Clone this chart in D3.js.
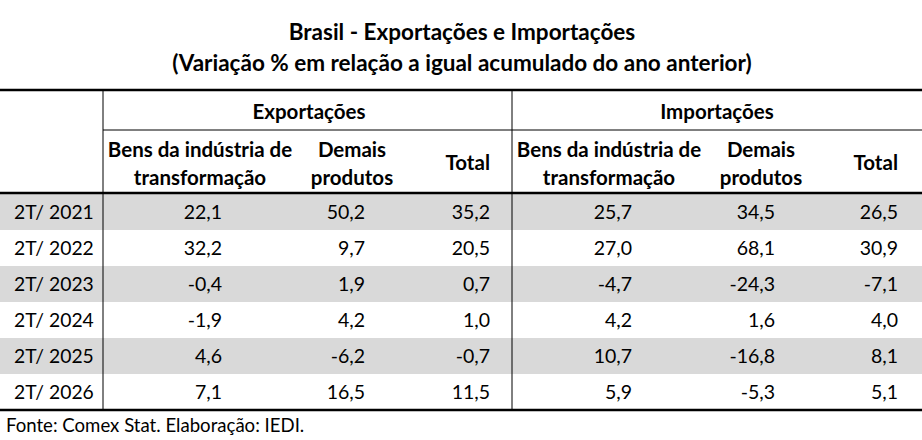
<!DOCTYPE html>
<html>
<head>
<meta charset="utf-8">
<script src="https://cdn.jsdelivr.net/npm/d3@7"></script>
<style>
  body { margin: 0; background: #fff; }
  svg { display: block; font-family: Lato, "Open Sans", sans-serif; }
</style>
</head>
<body>
<div id="tabela"></div>
<script>
const titulo = ["Brasil - Exportações e Importações", "(Variação % em relação a igual acumulado do ano anterior)"];
const grupos = ["Exportações", "Importações"];
const subcolunas = [["Bens da indústria de", "transformação"], ["Demais", "produtos"], ["Total"]];
const anos = ["2T/ 2021", "2T/ 2022", "2T/ 2023", "2T/ 2024", "2T/ 2025", "2T/ 2026"];
const expBens = [22.1, 32.2, -0.4, -1.9, 4.6, 7.1];
const expDemais = [50.2, 9.7, 1.9, 4.2, -6.2, 16.5];
const expTotal = [35.2, 20.5, 0.7, 1.0, -0.7, 11.5];
const impBens = [25.7, 27.0, -4.7, 4.2, 10.7, 5.9];
const impDemais = [34.5, 68.1, -24.3, 1.6, -16.8, -5.3];
const impTotal = [26.5, 30.9, -7.1, 4.0, 8.1, 5.1];
const fonte = "Fonte: Comex Stat. Elaboração: IEDI.";

const series = [expBens, expDemais, expTotal, impBens, impDemais, impTotal];

const width = 922, height = 440;
const svg = d3.select("#tabela").append("svg")
  .attr("width", width)
  .attr("height", height);

const br = d3.formatLocale({ decimal: ",", thousands: ".", grouping: [3], currency: ["R$", ""], minus: "-" });
const fmt = br.format(".1f");

// linhas da tabela
const y = d3.scaleBand().domain(anos).range([194, 410]);
// borda direita de cada coluna de valores
const xCol = d3.scaleOrdinal().domain(d3.range(6)).range([222, 365, 490, 632, 775, 898]);
// centro dos cabecalhos das colunas
const xHead = [200, 352, 490, 609, 761, 898];
const xGrupo = d3.scaleOrdinal().domain(grupos).range([309, 717]);

// titulo
svg.selectAll(".titulo")
  .data(titulo)
  .enter()
  .append("text")
  .attr("x", 462)
  .attr("y", (d, i) => 32 + i * 31)
  .attr("dy", "0.35em")
  .attr("text-anchor", "middle")
  .attr("font-weight", "bold")
  .attr("font-size", 22.5)
  .text(d => d);

// faixas cinzas
svg.selectAll(".faixa")
  .data(anos.filter((d, i) => i % 2 === 0))
  .enter()
  .append("rect")
  .attr("x", 0)
  .attr("y", d => y(d))
  .attr("width", width)
  .attr("height", y.bandwidth())
  .attr("fill", "#d9d9d9");

// linhas horizontais
svg.append("line").attr("x1", 0).attr("x2", width).attr("y1", 90).attr("y2", 90)
  .attr("stroke", "#000").attr("stroke-width", 2.5);
svg.append("line").attr("x1", 103).attr("x2", width).attr("y1", 130).attr("y2", 130)
  .attr("stroke", "#000").attr("stroke-width", 1);
svg.append("line").attr("x1", 0).attr("x2", width).attr("y1", 193).attr("y2", 193)
  .attr("stroke", "#000").attr("stroke-width", 2.5);
svg.append("line").attr("x1", 0).attr("x2", width).attr("y1", 410).attr("y2", 410)
  .attr("stroke", "#000").attr("stroke-width", 2.5);

// linhas verticais
[103, 512].forEach(x => {
  svg.append("line").attr("x1", x).attr("x2", x).attr("y1", 90).attr("y2", 410)
    .attr("stroke", "#000").attr("stroke-width", 1);
});

// cabecalhos de grupo
svg.selectAll(".grupo")
  .data(grupos)
  .enter()
  .append("text")
  .attr("x", d => xGrupo(d))
  .attr("y", 112)
  .attr("dy", "0.35em")
  .attr("text-anchor", "middle")
  .attr("font-weight", "bold")
  .attr("font-size", 20.5)
  .text(d => d);

// subcabecalhos
d3.range(6).forEach(c => {
  const linhas = subcolunas[c % 3];
  const total = linhas.length === 1;
  const t = svg.append("text")
    .attr("text-anchor", total ? "end" : "middle")
    .attr("font-weight", "bold")
    .attr("font-size", 20.5);
  linhas.forEach((l, i) => {
    t.append("tspan")
      .attr("x", xHead[c])
      .attr("y", total ? 163 : 150 + i * 28)
      .attr("dy", "0.35em")
      .text(l);
  });
});

// anos
svg.selectAll(".ano")
  .data(anos)
  .enter()
  .append("text")
  .attr("x", 14)
  .attr("y", d => y(d) + y.bandwidth() / 2)
  .attr("dy", "0.35em")
  .attr("font-size", 19.3)
  .text(d => d);

// valores
series.forEach((s, c) => {
  svg.selectAll(".v" + c)
    .data(s)
    .enter()
    .append("text")
    .attr("x", xCol(c))
    .attr("y", (d, i) => y(anos[i]) + y.bandwidth() / 2)
    .attr("dy", "0.35em")
    .attr("text-anchor", "end")
    .attr("font-size", 19.5)
    .text(d => fmt(d));
});

// fonte
svg.append("text")
  .attr("x", 6)
  .attr("y", 425)
  .attr("dy", "0.35em")
  .attr("font-size", 18.6)
  .text(fonte);
</script>
</body>
</html>
